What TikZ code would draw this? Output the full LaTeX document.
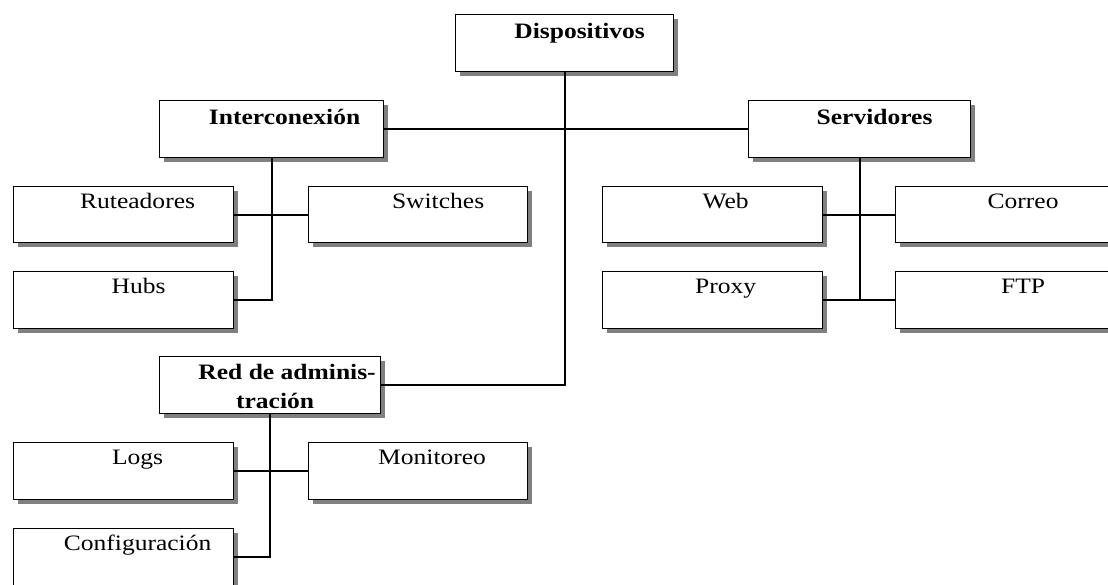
\documentclass[tikz,border=0pt]{standalone}
\usepackage{graphicx}
\usepackage{fontspec}
\setmainfont{Liberation Serif}
\usetikzlibrary{shadows}
\newcommand{\wtxt}[1]{\scalebox{1.16}[1]{#1}}
\tikzset{
  box/.style={draw=black, line width=1.2pt, fill=white, rectangle, inner sep=0pt,
    anchor=north west, minimum height=57pt,
    drop shadow={shadow xshift=4pt, shadow yshift=-4pt, fill=black!50, opacity=1}},
  lbl/.style={anchor=base, inner sep=0pt, font=\fontsize{22}{26}\selectfont},
  hdr/.style={lbl, font=\fontsize{22}{26}\selectfont\bfseries},
  conn/.style={draw=black, line width=2pt}
}
\begin{document}
\begin{tikzpicture}[x=1pt, y=-1pt]
\clip (0,0) rectangle (1108,584);
\fill[white] (0,0) rectangle (1108,584);
% boxes
\node[box, minimum width=218pt] (disp) at (455,14) {};
\node[box, minimum width=224pt] (inter) at (159,100) {};
\node[box, minimum width=222pt] (serv) at (748,100) {};
\node[box, minimum width=220pt, minimum height=56pt] (rut) at (13,186) {};
\node[box, minimum width=219pt, minimum height=56pt] (sw) at (308,186) {};
\node[box, minimum width=220pt] (hubs) at (13,271) {};
\node[box, minimum width=220pt, minimum height=56pt] (web) at (602,186) {};
\node[box, minimum width=225pt, minimum height=56pt] (cor) at (895,186) {};
\node[box, minimum width=220pt] (proxy) at (602,271) {};
\node[box, minimum width=225pt] (ftp) at (895,271) {};
\node[box, minimum width=221pt] (red) at (159,356) {};
\node[box, minimum width=220pt] (logs) at (13,442) {};
\node[box, minimum width=219pt] (mon) at (308,442) {};
\node[box, minimum width=220pt] (conf) at (13,528) {};
% labels
\node[hdr] (t-disp) at ([shift={(15,24)}]disp.north) {\wtxt{Dispositivos}};
\node[hdr] (t-inter) at ([shift={(13,24)}]inter.north) {\wtxt{Interconexión}};
\node[hdr] (t-serv) at ([shift={(15,24)}]serv.north) {\wtxt{Servidores}};
\node[lbl] (t-rut) at ([shift={(14,22)}]rut.north) {\wtxt{Ruteadores}};
\node[lbl] (t-sw) at ([shift={(20,22)}]sw.north) {\wtxt{Switches}};
\node[lbl] (t-hubs) at ([shift={(15,22)}]hubs.north) {\wtxt{Hubs}};
\node[lbl] (t-web) at ([shift={(13,22)}]web.north) {\wtxt{Web}};
\node[lbl] (t-cor) at ([shift={(15,22)}]cor.north) {\wtxt{Correo}};
\node[lbl] (t-proxy) at ([shift={(13,22)}]proxy.north) {\wtxt{Proxy}};
\node[lbl] (t-ftp) at ([shift={(15,22)}]ftp.north) {\wtxt{FTP}};
\node[hdr] (t-red1) at ([shift={(17,23)}]red.north) {\wtxt{Red de adminis-}};
\node[hdr] (t-red2) at ([shift={(5,52)}]red.north) {\wtxt{tración}};
\node[lbl] (t-logs) at ([shift={(14,22)}]logs.north) {\wtxt{Logs}};
\node[lbl] (t-mon) at ([shift={(14,22)}]mon.north) {\wtxt{Monitoreo}};
\node[lbl] (t-conf) at ([shift={(14,22)}]conf.north) {\wtxt{Configuración}};
% connectors
\draw[conn] (disp.south) |- (red.east);
\draw[conn] (inter.east) -- (serv.west);
\draw[conn] (inter.south) |- (hubs.east);
\draw[conn] (rut.east) -- (sw.west);
\draw[conn] (serv.south) |- (proxy.east);
\draw[conn] (serv.south |- ftp.west) -- (ftp.west);
\draw[conn] (web.east) -- (cor.west);
\draw[conn] (red.south) |- (conf.east);
\draw[conn] (logs.east) -- (mon.west);
\end{tikzpicture}
\end{document}
